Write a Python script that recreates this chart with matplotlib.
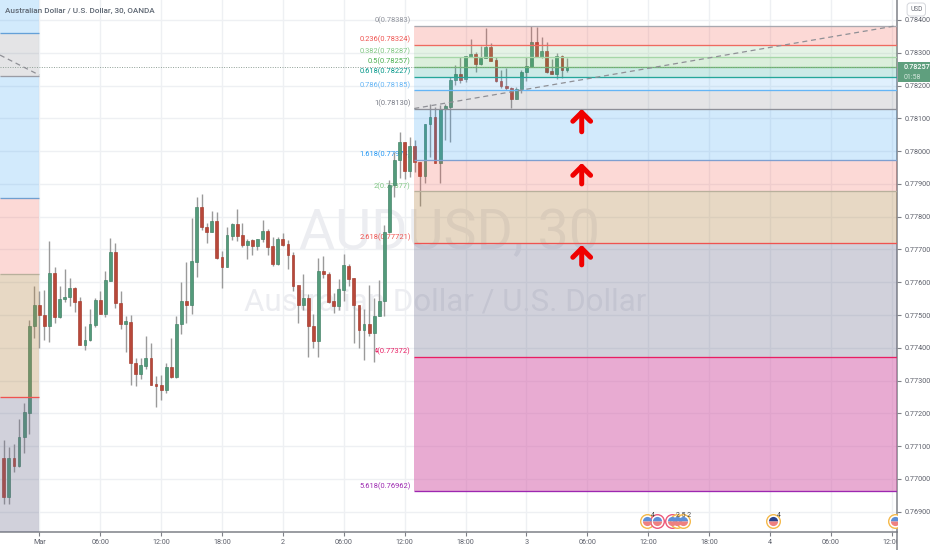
import numpy as np
import matplotlib
matplotlib.use('Agg')
import matplotlib.pyplot as plt
from matplotlib.patches import Rectangle
from matplotlib.transforms import Bbox, IdentityTransform, TransformedBbox, blended_transform_factory

plt.rcParams['font.family'] = ['Roboto', 'DejaVu Sans']

# candles, prices in 1e-5 units, first bar is 7 bars before 1 Mar 00:00
opens = [77065,76946,77065,77038,77128,77202,77468,77530,77500,77468,
         77628,77494,77549,77554,77583,77543,77410,77424,77470,77546,
         77504,77605,77693,77536,77473,77480,77355,77320,77346,77369,
         77290,77285,77271,77341,77310,77473,77544,77532,77663,77829,
         77770,77754,77786,77676,77646,77742,77778,77743,77713,77728,
         77712,77731,77756,77711,77656,77733,77717,77682,77592,77531,
         77551,77468,77421,77634,77626,77542,77529,77577,77651,77612,
         77532,77454,77472,77444,77498,77543,77752,77897,77973,78027,
         77939,78017,77966,77925,78082,78103,77964,78129,78136,78216,
         78234,78219,78288,78296,78266,78284,78319,78278,78214,78200,
         78193,78159,78189,78240,78258,78332,78286,78305,78244,78235,
         78290,78247]
closes = [76946,77065,77038,77128,77203,77468,77530,77499,77468,77628,
          77495,77550,77556,77583,77541,77410,77424,77472,77547,77504,
          77607,77693,77536,77473,77481,77354,77320,77347,77369,77288,
          77284,77271,77341,77310,77474,77544,77532,77665,77829,77770,
          77754,77786,77673,77646,77743,77778,77742,77713,77727,77712,
          77731,77756,77709,77656,77733,77715,77683,77590,77531,77551,
          77467,77421,77634,77624,77540,77529,77579,77652,77611,77531,
          77454,77472,77444,77498,77544,77752,77897,77973,78027,77939,
          78017,77966,77925,78082,78103,77964,78129,78138,78217,78234,
          78217,78289,78296,78266,78284,78319,78276,78214,78199,78192,
          78159,78190,78241,78260,78332,78286,78305,78240,78235,78290,
          78247,78257]
highs = [77119,77098,77107,77183,77232,77485,77589,77573,77576,77726,
         77647,77589,77641,77614,77587,77556,77467,77519,77551,77574,
         77635,77734,77721,77573,77498,77500,77370,77368,77436,77414,
         77314,77317,77353,77429,77498,77602,77662,77797,77861,77869,
         77782,77817,77813,77696,77770,77780,77823,77780,77731,77731,
         77733,77790,77762,77739,77737,77749,77729,77693,77592,77625,
         77564,77503,77673,77681,77632,77566,77609,77685,77655,77612,
         77532,77518,77592,77551,77607,77775,77912,77998,78059,78027,
         78042,78034,77967,78082,78143,78136,78141,78144,78227,78263,
         78288,78289,78341,78303,78322,78375,78329,78288,78247,78255,
         78197,78195,78247,78288,78382,78380,78349,78332,78280,78298,
         78293,78283]
lows = [76924,76924,77021,77036,77079,77137,77430,77400,77424,77418,
        77477,77491,77541,77526,77510,77409,77394,77421,77462,77502,
        77494,77604,77521,77457,77388,77287,77283,77305,77334,77287,
        77218,77241,77261,77309,77309,77441,77475,77502,77617,77759,
        77721,77752,77671,77582,77645,77729,77727,77709,77670,77683,
        77698,77724,77683,77650,77653,77711,77640,77574,77475,77515,
        77373,77399,77373,77612,77536,77507,77515,77544,77589,77414,
        77399,77363,77436,77358,77497,77497,77749,77861,77917,77914,
        77920,77937,77834,77904,77983,77963,77904,78034,78027,78202,
        78209,78212,78288,78242,78263,78283,78275,78212,78192,78186,
        78131,78158,78178,78215,78258,78286,78285,78239,78234,78220,
        78222,78242]

# fib retracement
fib_names = ['0', '0.236', '0.382', '0.5', '0.618', '0.786', '1', '1.618', '2', '2.618', '4', '5.618']
fib_prices = [0.78383, 0.78324, 0.78287, 0.78257, 0.78227, 0.78185, 0.78130, 0.77974, 0.77877, 0.77721, 0.77372, 0.76962]
fib_text = ['#8f929b', '#ef5350', '#81c784', '#4caf50', '#009688', '#64b5f6', '#787b86', '#2196f3',
            '#81c784', '#ef5350', '#e91e63', '#9c27b0']
fib_lines = ['#a9a9b0', '#ef6a60', '#a5d6a7', '#66bb6a', '#26a69a', '#64b5f6', '#8d8f98', '#7e9fd0',
             '#b8b09c', '#ef5350', '#e91e63', '#9c27b0']
zone_colors = ['#f44336', '#81c784', '#4caf50', '#009688', '#64b5f6', '#787b86', '#2196f3', '#f44336',
               '#b2803e', '#69698a', '#d359a7']
zone_alpha = [.2, .2, .2, .2, .2, .2, .2, .2, .3, .3, .5]

# older fib, cut off at the left edge
old_prices = [0.78461, 0.78360, 0.78230, 0.77857, 0.77625, 0.77250, 0.76839]
old_colors = ['#2196f3', '#787b86', '#2196f3', '#f44336', '#b2803e', '#69698a']
old_alpha = [.2, .2, .2, .2, .3, .3]
old_lines = ['#64a0d8', '#9a9ca5', '#6f9fd0', '#b8b09c', '#ef5350']

tick_bars = [0, 12, 24, 36, 48, 60, 72, 84, 96, 108, 120, 132, 144, 156, 168]
tick_text = ['Mar', '06:00', '12:00', '18:00', '2', '06:00', '12:00', '18:00', '3',
             '06:00', '12:00', '18:00', '4', '06:00', '12:00']
y_ticks = [0.769, 0.770, 0.771, 0.772, 0.773, 0.774, 0.775, 0.776, 0.777, 0.778,
           0.779, 0.780, 0.781, 0.782, 0.783, 0.784]

event_bars = [119.7, 121.8, 124.7, 125.7, 126.9, 144.6, 168.7]
event_rings = ['#f5b94a', '#ec5a7a', '#ec5a7a', '#f5b94a', '#f5b94a', '#f5b94a', '#f5b94a']
event_face = ['#5c8fd8', '#5c8fd8', '#5c8fd8', '#5c8fd8', '#5c8fd8', '#27408b', '#5c8fd8']

arrow_bar = 106.9
arrow_tips = [0.78129, 0.77964, 0.77714]
arrow_tails = [0.78059, 0.77900, 0.77653]

bars = np.arange(-7, 105)
o = np.array(opens) / 1e5
c = np.array(closes) / 1e5
h = np.array(highs) / 1e5
l = np.array(lows) / 1e5
up = c >= o

fig = plt.figure(figsize=(9.32, 5.5), dpi=100)
ax = fig.add_axes([0, 18.3 / 550, 897.3 / 932, 531.7 / 550])
xmin, xmax = -7.75, 169.1
ax.set_xlim(xmin, xmax)
ax.set_ylim(0.76839, 0.78461)

# grid and watermark
ax.grid(True, color='#eef0f3', lw=1)
ax.set_axisbelow(True)
ax.text(80.9, 0.77747, 'AUDUSD, 30', color='#eceDf1', fontsize=40, ha='center', va='center', zorder=1)
ax.text(80, 0.77540, 'Australian Dollar / U.S. Dollar', color='#eceDf1', fontsize=22.5,
        ha='center', va='center', zorder=1)

# fib labels sit under the candles
x0 = 73.9
for name, p, col in zip(fib_names, fib_prices, fib_text):
    ax.annotate(f'{name}({p:.5f})', xy=(x0, p), xytext=(-2.5, 3.8), textcoords='offset points',
                ha='right', va='center', fontsize=5.4, color=col, zorder=1.5)

# candles
ax.vlines(bars, l, h, color='#9a9a9a', lw=1, zorder=2)
body_col = np.where(up, '#539b7b', '#b8483a')
edge_col = np.where(up, '#3f7f63', '#a33a2c')
ax.bar(bars, np.maximum(np.abs(c - o), 0.00002), bottom=np.minimum(o, c), width=0.56,
       color=body_col, edgecolor=edge_col, linewidth=0.45, zorder=2.5)

# fib zones over the candles
for i, col in enumerate(zone_colors):
    ax.fill_between([x0, xmax], fib_prices[i + 1], fib_prices[i], color=col, alpha=zone_alpha[i], lw=0, zorder=3)
for p, col in zip(fib_prices, fib_lines):
    ax.plot([x0, xmax], [p, p], color=col, lw=0.95, zorder=3.2, solid_capstyle='butt')

for i, col in enumerate(old_colors):
    ax.fill_between([xmin, 0], old_prices[i + 1], old_prices[i], color=col, alpha=old_alpha[i], lw=0, zorder=3)
for p, col in zip(old_prices[1:-1], old_lines):
    ax.plot([xmin, 0], [p, p], color=col, lw=0.95, zorder=3.2, solid_capstyle='butt')

# trend lines of the fibs
ax.plot([x0, xmax], [fib_prices[6], fib_prices[0]], color='#8f9096', lw=0.9, ls=(0, (4, 3)), zorder=3.4)
ax.plot([xmin, 0], [0.78293, 0.78232], color='#8f9096', lw=0.9, ls=(0, (4, 3)), zorder=3.4)

# last price line
ax.axhline(c[-1], color='#8f9f96', lw=0.7, ls=(0, (1, 1.5)), zorder=3.3)

# arrows
for tip, tail in zip(arrow_tips, arrow_tails):
    ax.annotate('', xy=(arrow_bar, tip), xytext=(arrow_bar, tail), zorder=5,
                arrowprops=dict(arrowstyle='->,head_length=0.32,head_width=0.32', color='#f00000',
                                lw=3.6, mutation_scale=20, shrinkA=0, shrinkB=0))

# economic event icons
event_y = 0.76872
for xb, ring, face in zip(event_bars, event_rings, event_face):
    ax.plot(xb, event_y, 'o', ms=9.8, mfc='white', mec=ring, mew=1, zorder=4)
    ax.plot(xb, event_y, 'o', ms=6.6, fillstyle='top', mfc=face, mfcalt='#ee8080', mec='none', zorder=4.1)
ax.text(120.9, 0.76888, '4', fontsize=5, color='#444444', ha='center', va='center', zorder=5)
ax.text(126.9, 0.76888, '2 5 2', fontsize=5, color='#444444', ha='center', va='center', zorder=5)
ax.text(145.8, 0.76888, '4', fontsize=5, color='#444444', ha='center', va='center', zorder=5)

# axes
for side in ['top', 'left']:
    ax.spines[side].set_visible(False)
ax.spines['right'].set_color('#7f8188')
ax.spines['bottom'].set_color('#7f8188')
ax.spines['right'].set_linewidth(1.1)
ax.spines['bottom'].set_linewidth(1.1)
ax.yaxis.tick_right()
ax.set_yticks(y_ticks)
ax.set_yticklabels([f'{t:.5f}' for t in y_ticks])
ax.set_xticks(tick_bars)
ax.set_xticklabels(tick_text)
ax.tick_params(axis='y', length=3, width=0.8, color='#7f8188', labelsize=5.2, labelcolor='#5d606b', pad=2)
ax.tick_params(axis='x', length=3, width=0.8, color='#7f8188', labelsize=5.2, labelcolor='#5d606b', pad=2)
clip = TransformedBbox(Bbox([[0, 0], [897, 550]]), IdentityTransform())
for lab in ax.get_xticklabels():
    lab.set_clip_box(clip)
    lab.set_clip_on(True)

# right axis line runs down to the figure edge
fig.add_artist(plt.Line2D([897.3 / 932, 897.3 / 932], [0, 18.3 / 550], color='#7f8188', lw=1.1))

# last price tag
trans = blended_transform_factory(ax.transAxes, ax.transData)
ax.add_patch(Rectangle((1.0005, 0.78211), 32 / 897.3, 0.00061, transform=trans, clip_on=False,
                       facecolor='#5f9f7e', edgecolor='none', zorder=6))
ax.text(1.0065, 0.78257, f'{c[-1]:.5f}', transform=trans, color='white', fontsize=5.2,
        fontweight='medium', va='center', ha='left', zorder=7)
ax.text(1.0065, 0.78226, '01:58', transform=trans, color='#d5e8de', fontsize=5, va='center', ha='left', zorder=7)

# title and currency box
ax.text(5 / 897.3, 1 - 11 / 531.7, 'Australian Dollar / U.S. Dollar, 30, OANDA', transform=ax.transAxes,
        color='#5d6672', fontsize=5.9, fontweight='medium', ha='left', va='center', zorder=6)
ax.text(1.0 + 19 / 897.3, 1 - 9.5 / 531.7, 'USD', transform=ax.transAxes, color='#6b6e78', fontsize=4.8,
        ha='center', va='center', clip_on=False, zorder=6,
        bbox=dict(boxstyle='round,pad=0.45', fc='white', ec='#d5d7dc', lw=0.7))

fig.savefig('out.png', dpi=100)
